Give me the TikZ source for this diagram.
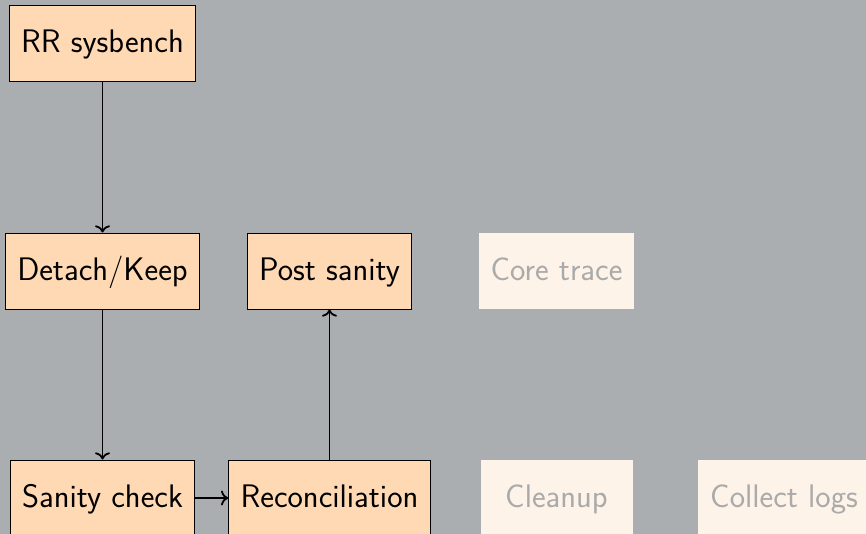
\documentclass[tikz,border=0pt]{standalone}
\usepackage{fontspec}
\usetikzlibrary{arrows.meta}
\definecolor{slidebg}{RGB}{170,174,176}
\definecolor{stepfill}{RGB}{255,217,179}
\definecolor{idlefill}{RGB}{253,243,232}
\definecolor{idletext}{RGB}{170,170,170}
\begin{document}
\begin{tikzpicture}[x=0.5pt,y=-0.5pt,
  anybox/.style={inner xsep=6pt, minimum width=76pt, minimum height=38pt,
    text height=11.3pt, text depth=2.3pt,
    font=\sffamily\fontsize{16.3}{19}\selectfont},
  stagebox/.style={anybox, draw=black, line width=0.5pt, fill=stepfill, text=black},
  idlebox/.style={anybox, fill=idlefill, text=idletext},
  flow/.style={->, line width=0.9pt, black}]
  \useasboundingbox (0,0) rectangle (866,534);
  \clip (0,0) rectangle (866,534);
  \fill[slidebg] (0,0) rectangle (866,534);

  \node[stagebox] (rr)     at (102.5,44)  {RR sysbench};
  \node[stagebox] (detach) at (102.5,271) {Detach/Keep};
  \node[stagebox] (post)   at (329.5,271) {Post sanity};
  \node[idlebox]  (core)   at (556.5,271) {Core trace};
  \node[stagebox] (sanity) at (102.5,498) {Sanity check};
  \node[stagebox] (recon)  at (329.5,498) {Reconciliation};
  \node[idlebox]  (clean)  at (556.5,498) {Cleanup};
  \node[idlebox]  (logs)   at (784,498)   {Collect logs};

  \draw[flow] (rr) -- (detach);
  \draw[flow] (detach) -- (sanity);
  \draw[flow] (sanity) -- (recon);
  \draw[flow] (recon) -- (post);
\end{tikzpicture}
\end{document}
